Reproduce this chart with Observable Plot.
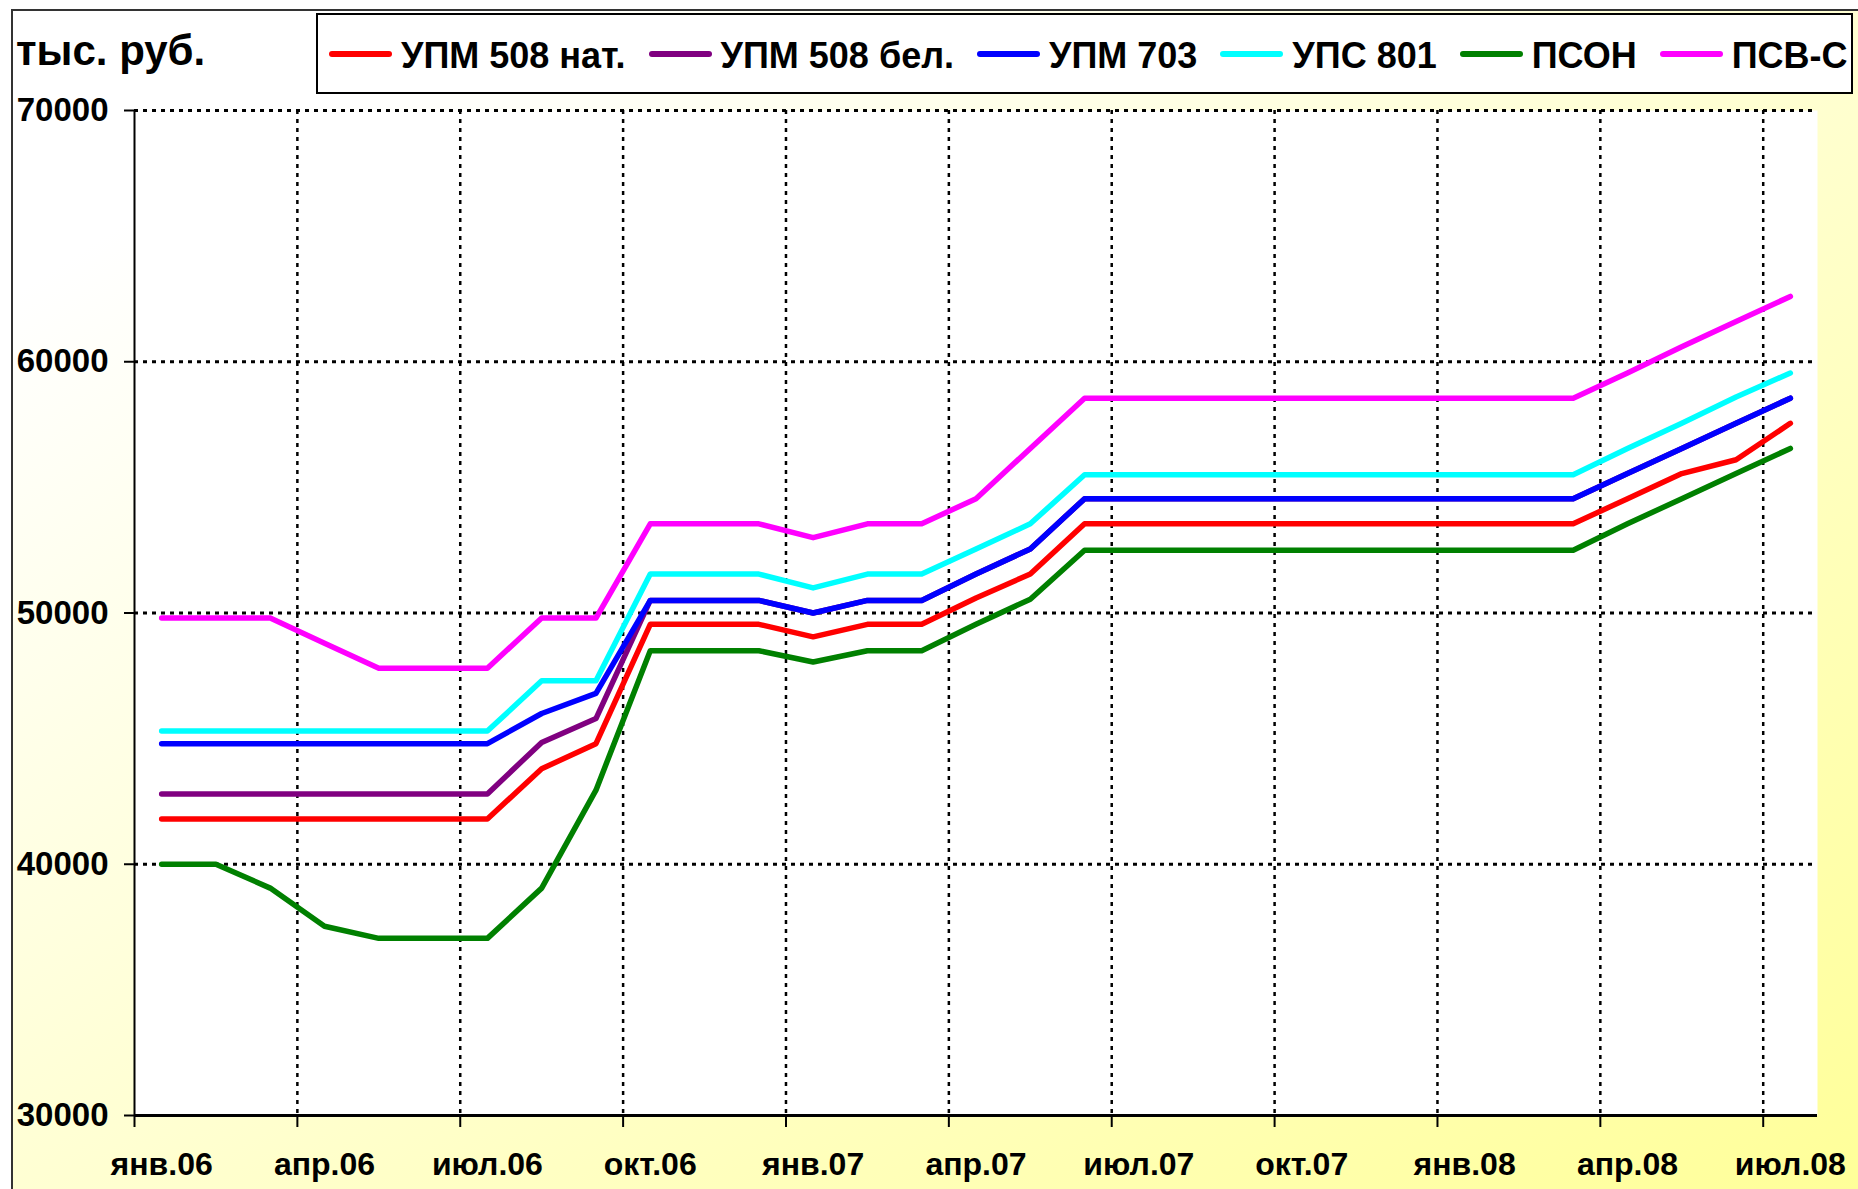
<!DOCTYPE html>
<html>
<head>
<meta charset="utf-8">
<script src="https://cdn.jsdelivr.net/npm/d3@7"></script>
<script src="https://cdn.jsdelivr.net/npm/@observablehq/plot@0.6"></script>
<style>
html, body { margin: 0; padding: 0; background: #ffffff; width: 1858px; height: 1189px; overflow: hidden;
  font-family: "Liberation Sans", Arial, sans-serif; }
#bg { position: absolute; left: 11px; top: 9px; width: 1847px; height: 1180px; box-sizing: border-box;
  border-left: 2px solid #333; border-top: 2px solid #333;
  background: linear-gradient(to bottom right, #ffffff 12%, #ffff99 100%); }
#chart { position: absolute; left: 0; top: 0; }
#ylabel { position: absolute; left: 16px; top: 30px; font-size: 42px; line-height: 42px; font-weight: bold; color: #000; white-space: nowrap; }
#legend { position: absolute; left: 316px; top: 13px; width: 1537px; height: 81px; box-sizing: border-box;
  border: 2px solid #000; background: #ffffff; display: flex; align-items: center; padding-left: 11px; }
.item { display: flex; align-items: center; margin-right: 23px; }
.swatch { width: 63px; height: 6px; border-radius: 3px; margin-right: 9px; }
.name { font-size: 36px; line-height: 36px; font-weight: bold; color: #000; white-space: nowrap; position: relative; top: 2px; }
</style>
</head>
<body>
<div id="bg"></div>
<div id="chart"></div>
<div id="ylabel"></div>
<div id="legend"></div>
<script>
// Categories: months Jan 2006 – Jul 2008
const months = ["янв.06","фев.06","мар.06","апр.06","май.06","июн.06","июл.06","авг.06","сен.06","окт.06","ноя.06","дек.06",
  "янв.07","фев.07","мар.07","апр.07","май.07","июн.07","июл.07","авг.07","сен.07","окт.07","ноя.07","дек.07",
  "янв.08","фев.08","мар.08","апр.08","май.08","июн.08","июл.08"];

// Series values, тыс. руб.
const upm508nat = [41800,41800,41800,41800,41800,41800,41800,43800,44800,49550,49550,49550,49050,49550,49550,50600,51550,
  53550,53550,53550,53550,53550,53550,53550,53550,53550,53550,54550,55550,56100,57550];
const upm508bel = [42800,42800,42800,42800,42800,42800,42800,44850,45800,50500,50500,50500,50000,50500,50500,51550,52550,
  54550,54550,54550,54550,54550,54550,54550,54550,54550,54550,55550,56550,57550,58550];
const upm703 = [44800,44800,44800,44800,44800,44800,44800,46000,46800,50500,50500,50500,50000,50500,50500,51550,52550,
  54550,54550,54550,54550,54550,54550,54550,54550,54550,54550,55550,56550,57550,58550];
const ups801 = [45300,45300,45300,45300,45300,45300,45300,47300,47300,51550,51550,51550,51000,51550,51550,52550,53550,
  55500,55500,55500,55500,55500,55500,55500,55500,55500,55500,56550,57550,58600,59550];
const pson = [40000,40000,39050,37530,37050,37050,37050,39050,42950,48500,48500,48500,48050,48500,48500,49550,50550,
  52500,52500,52500,52500,52500,52500,52500,52500,52500,52500,53550,54550,55550,56550];
const psvs = [49800,49800,49800,48800,47800,47800,47800,49800,49800,53550,53550,53550,53000,53550,53550,54550,56550,
  58550,58550,58550,58550,58550,58550,58550,58550,58550,58550,59550,60600,61600,62600];

const seriesNames = ["УПМ 508 нат.", "УПМ 508 бел.", "УПМ 703", "УПС 801", "ПСОН", "ПСВ-С"];
const seriesColors = ["#ff0000", "#800080", "#0000ff", "#00ffff", "#008000", "#ff00ff"];
const seriesValues = [upm508nat, upm508bel, upm703, ups801, pson, psvs];

const yTicks = [30000, 40000, 50000, 60000, 70000];
const labelMonths = [0, 3, 6, 9, 12, 15, 18, 21, 24, 27, 30];
const yTitle = "тыс. руб.";

// Build tables
const series = seriesNames.map((name, k) => ({
  name, color: seriesColors[k],
  rows: seriesValues[k].map((v, i) => ({i, v}))
}));
const boundaries = labelMonths.map(i => i - 0.5);

const lineMarks = series.map(s => Plot.line(s.rows, {
  x: "i", y: "v", stroke: s.color, strokeWidth: 5.5,
  strokeLinejoin: "round", strokeLinecap: "round"
}));

const plot = Plot.plot({
  width: 1858, height: 1189,
  marginLeft: 134, marginRight: 41, marginTop: 110, marginBottom: 74,
  x: {domain: [-0.5, months.length - 0.5]},
  y: {domain: [yTicks[0], yTicks[yTicks.length - 1]]},
  style: {fontFamily: "'Liberation Sans', Arial, sans-serif", fontWeight: "bold", color: "#000",
    background: "transparent", overflow: "visible"},
  marks: [
    Plot.frame({fill: "#ffffff", stroke: null}),
    Plot.gridY(yTicks.slice(1), {stroke: "#000", strokeOpacity: 1, strokeWidth: 3, strokeDasharray: "4,5"}),
    Plot.gridX(boundaries.slice(1), {stroke: "#000", strokeOpacity: 1, strokeWidth: 2.5, strokeDasharray: "4,5"}),
    ...lineMarks,
    Plot.ruleX([boundaries[0]], {stroke: "#000", strokeWidth: 2}),
    Plot.ruleY([yTicks[0]], {stroke: "#000", strokeWidth: 3}),
    Plot.axisY(yTicks, {tickSize: 10, tickPadding: 16, tickFormat: d => String(d), fontSize: 33,
      fontWeight: "bold", label: null, strokeWidth: 2}),
    Plot.axisX(boundaries, {tickSize: 12, tickFormat: () => "", label: null, strokeWidth: 2}),
    Plot.axisX(labelMonths, {tickSize: 0, tickPadding: 37, tickFormat: i => months[i], fontSize: 32,
      fontWeight: "bold", label: null})
  ]
});
document.getElementById("chart").appendChild(plot);

document.getElementById("ylabel").textContent = yTitle;
const legend = document.getElementById("legend");
series.forEach(s => {
  const item = document.createElement("div");
  item.className = "item";
  const sw = document.createElement("div");
  sw.className = "swatch";
  sw.style.background = s.color;
  const nm = document.createElement("span");
  nm.className = "name";
  nm.textContent = s.name;
  item.appendChild(sw);
  item.appendChild(nm);
  legend.appendChild(item);
});
</script>
</body>
</html>
